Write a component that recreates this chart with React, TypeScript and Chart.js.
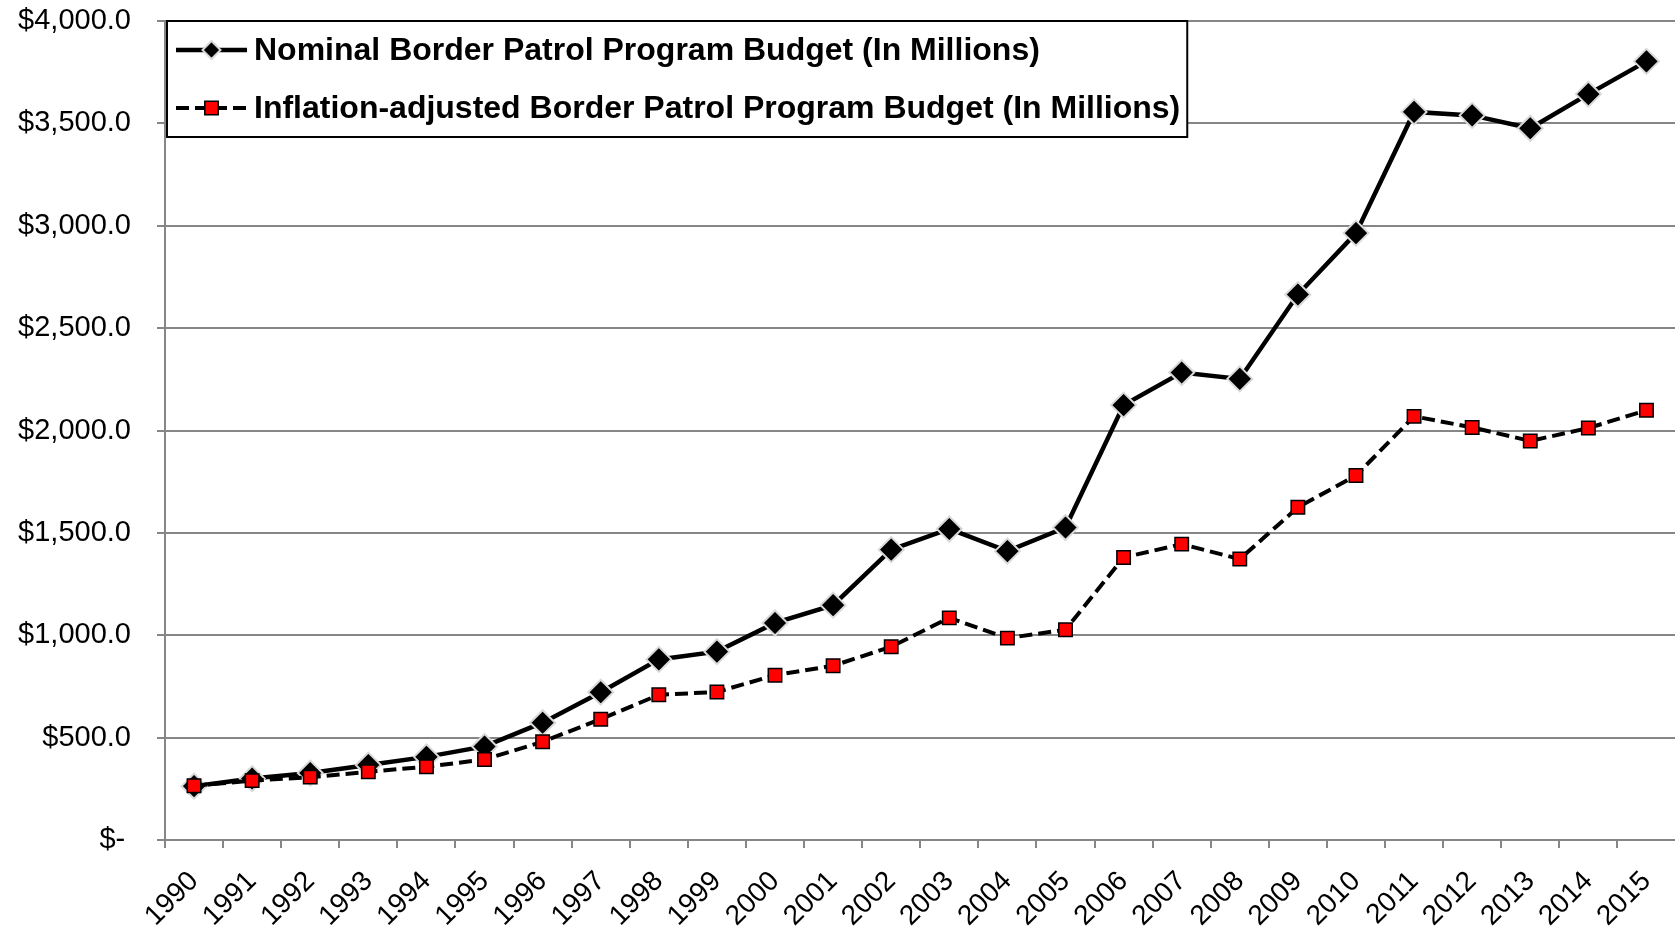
import React, { useEffect, useRef } from "react";
import { Chart, registerables } from "chart.js";

Chart.register(...registerables);

const years = [
  "1990", "1991", "1992", "1993", "1994", "1995", "1996", "1997", "1998", "1999",
  "2000", "2001", "2002", "2003", "2004", "2005", "2006", "2007", "2008", "2009",
  "2010", "2011", "2012", "2013", "2014", "2015",
];

const nominalBudget = [
  263, 300, 327, 366, 406, 457, 573, 722, 882, 920,
  1060, 1147, 1418, 1519, 1411, 1526, 2124, 2283, 2252, 2664,
  2964, 3556, 3539, 3476, 3643, 3803,
];

const inflationAdjustedBudget = [
  265, 290, 307, 333, 358, 393, 480, 590, 709, 723,
  805, 851, 944, 1085, 986, 1027, 1380, 1445, 1372, 1625,
  1780, 2069, 2015, 1949, 2012, 2099,
];

const seriesLabels = [
  "Nominal Border Patrol Program Budget (In Millions)",
  "Inflation-adjusted Border Patrol Program Budget (In Millions)",
];

const FONT = '"Liberation Sans", Arial, sans-serif';
const GRID = "#868686";

const boxLegend = {
  id: "boxLegend",
  afterDraw(chart: any) {
    const ctx: CanvasRenderingContext2D = chart.ctx;
    const a = chart.chartArea;
    ctx.save();
    ctx.font = `bold 32px ${FONT}`;
    const x0 = a.left + 2;
    const y0 = a.top;
    const textX = x0 + 87;
    let maxW = 0;
    chart.data.datasets.forEach((ds: any) => {
      maxW = Math.max(maxW, ctx.measureText(ds.label).width);
    });
    const w = textX + maxW + 7 - x0;
    const h = 116;
    ctx.fillStyle = "#ffffff";
    ctx.fillRect(x0, y0, w, h);
    ctx.strokeStyle = "#000000";
    ctx.lineWidth = 2;
    ctx.strokeRect(x0, y0, w, h);

    const rows = [y0 + 29, y0 + 87];
    chart.data.datasets.forEach((ds: any, i: number) => {
      const y = rows[i];
      const lx0 = x0 + 9;
      const lx1 = x0 + 80;
      const mx = (lx0 + lx1) / 2;
      ctx.beginPath();
      ctx.setLineDash(ds.borderDash || []);
      ctx.strokeStyle = ds.borderColor;
      ctx.lineWidth = ds.borderWidth;
      ctx.moveTo(lx0, y);
      ctx.lineTo(lx1, y);
      ctx.stroke();
      ctx.setLineDash([]);
      ctx.beginPath();
      if (ds.pointStyle === "rectRot") {
        const r = 9;
        ctx.moveTo(mx - r, y);
        ctx.lineTo(mx, y - r);
        ctx.lineTo(mx + r, y);
        ctx.lineTo(mx, y + r);
        ctx.closePath();
      } else {
        const s = 6.7;
        ctx.rect(mx - s, y - s, 2 * s, 2 * s);
      }
      ctx.fillStyle = ds.pointBackgroundColor;
      ctx.fill();
      ctx.strokeStyle = ds.pointBorderColor;
      ctx.lineWidth = ds.pointBorderWidth;
      ctx.stroke();

      ctx.fillStyle = "#000000";
      ctx.font = `bold 32px ${FONT}`;
      ctx.textAlign = "left";
      ctx.textBaseline = "middle";
      ctx.fillText(ds.label, textX, y + 1);
    });
    ctx.restore();
  },
};

export default function App() {
  const canvasRef = useRef<HTMLCanvasElement | null>(null);

  useEffect(() => {
    if (!canvasRef.current) return;
    const chart = new Chart(canvasRef.current, {
      type: "line",
      data: {
        labels: years,
        datasets: [
          {
            label: seriesLabels[0],
            data: nominalBudget,
            borderColor: "#000000",
            borderWidth: 4.5,
            tension: 0,
            pointStyle: "rectRot",
            pointRadius: 12.5,
            pointBackgroundColor: "#000000",
            pointBorderColor: "#d9d9d9",
            pointBorderWidth: 2,
            order: 1,
          } as any,
          {
            label: seriesLabels[1],
            data: inflationAdjustedBudget,
            borderColor: "#000000",
            borderWidth: 4,
            borderDash: [13, 6],
            tension: 0,
            pointStyle: "rect",
            pointRadius: 9.5,
            pointBackgroundColor: "#ff0000",
            pointBorderColor: "#000000",
            pointBorderWidth: 1.5,
            order: 0,
          } as any,
        ],
      },
      options: {
        animation: false,
        responsive: true,
        maintainAspectRatio: false,
        layout: { padding: { top: 21, right: 0, bottom: 0, left: 0 } },
        plugins: {
          legend: { display: false },
          tooltip: { enabled: false },
        },
        scales: {
          x: {
            type: "category",
            offset: true,
            afterFit: (scale: any) => {
              scale.height = 89;
              scale.paddingLeft = 0;
              scale.paddingRight = 0;
            },
            grid: {
              offset: true,
              drawOnChartArea: false,
              drawTicks: true,
              tickLength: 8,
              color: GRID,
              lineWidth: 2,
            },
            border: { display: true, color: GRID, width: 2 },
            ticks: {
              color: "#000000",
              font: { family: FONT, size: 28 },
              minRotation: 45,
              maxRotation: 45,
              autoSkip: false,
              padding: 17,
            },
          },
          y: {
            min: 0,
            max: 4000,
            afterFit: (scale: any) => {
              scale.width = 165;
              scale.paddingTop = 0;
              scale.paddingBottom = 0;
            },
            grid: {
              color: GRID,
              lineWidth: 2,
              drawTicks: true,
              tickLength: 8,
            },
            border: { display: true, color: GRID, width: 2 },
            ticks: {
              stepSize: 500,
              color: "#000000",
              font: { family: FONT, size: 29 },
              padding: 26,
              callback: (v: any) =>
                Number(v) === 0
                  ? "$-\u2009"
                  : "$" +
                    Number(v).toLocaleString("en-US", {
                      minimumFractionDigits: 1,
                      maximumFractionDigits: 1,
                    }),
            },
          },
        },
      },
      plugins: [boxLegend],
    });
    return () => chart.destroy();
  }, []);

  return (
    <div
      style={{
        position: "fixed",
        left: 0,
        top: 0,
        width: "1690px",
        height: "929px",
        background: "#ffffff",
      }}
    >
      <canvas ref={canvasRef} />
    </div>
  );
}
